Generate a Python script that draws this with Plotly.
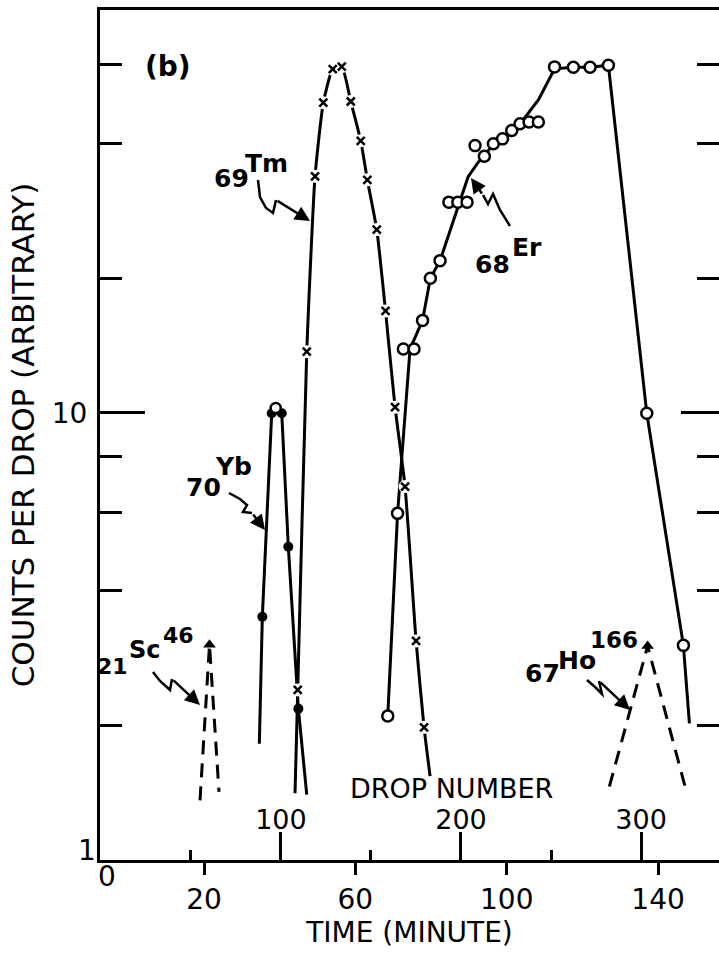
import plotly.graph_objects as go

# ---------------- data (time in minutes, counts per drop) ----------------
# 69Tm  (x markers)
TM_T = [44.77, 47.15, 49.34, 51.53, 54.02, 56.40, 58.78, 61.42, 63.16, 65.65, 67.97, 70.49, 73.13, 76.04, 78.15]
TM_C = [2.40, 13.7, 33.8, 49.4, 58.7, 59.5, 49.7, 40.6, 33.2, 25.7, 16.9, 10.3, 6.84, 3.09, 1.98]
TM_ENDS_T = [44.05, 79.74]
TM_ENDS_C = [1.41, 1.54]

# 70Yb  (filled dots)
YB_T = [35.41, 37.89, 40.54, 42.28, 44.93]
YB_C = [3.50, 9.98, 9.98, 5.02, 2.18]
YB_ENDS_T = [34.62, 47.15]
YB_ENDS_C = [1.82, 1.40]
YB_OPEN_T = [38.95]
YB_OPEN_C = [10.26]

# 68Er  (open circles)
ER_T = [68.56, 71.15, 72.68, 75.51, 77.75, 79.82, 82.38, 84.71, 87.08, 89.52, 91.63, 94.09,
        96.47, 98.90, 101.33, 103.52, 105.90, 108.36, 112.64, 117.61, 122.03, 126.87, 137.01, 146.69]
ER_C = [2.10, 5.96, 13.9, 13.9, 16.1, 20.0, 21.9, 29.6, 29.6, 29.6, 39.6, 37.5,
        40.0, 41.0, 42.8, 44.3, 44.7, 44.7, 59.4, 59.3, 59.3, 59.9, 9.98, 3.02]
# hand-drawn smooth curve through the Er points
ER_CURVE_T = [68.56, 71.15, 74.45, 77.75, 79.82, 82.38, 87.14, 89.78, 92.42, 94.09, 96.47, 98.90,
              101.33, 103.52, 108.36, 112.64, 117.61, 122.03, 126.87, 137.01, 146.69, 148.28]
ER_CURVE_C = [2.10, 5.96, 13.9, 16.1, 20.0, 21.9, 28.9, 33.7, 36.3, 37.5, 40.0, 41.0,
              42.8, 44.3, 50.1, 58.8, 59.3, 59.3, 59.9, 9.98, 3.02, 2.02]

# 21Sc46 and 67Ho166 (dashed, triangle at peak)
SC_T = [18.94, 21.45, 23.96]
SC_C = [1.36, 3.03, 1.42]
HO_T = [127.13, 137.23, 147.14]
HO_C = [1.46, 3.01, 1.46]

TIME_TICKS = [20, 60, 100, 140]
DROP_TICKS = [100, 200, 300]
DROP_MINOR = [50, 150, 250]
Y_MAJOR = [10]
Y_MINOR = [2, 4, 6, 8, 20, 40, 60]

# ---------------- layout geometry ----------------
W, H = 719, 955
ML, MR, MT, MB = 100, 0, 10, 95
PW, PH = W - ML - MR, H - MT - MB
FONT = "DejaVu Sans"


def px(x):
    return (x - ML) / PW


def py(y):
    return (H - MB - y) / PH


fig = go.Figure()

# Tm curve
fig.add_trace(go.Scatter(x=[TM_ENDS_T[0]] + TM_T + [TM_ENDS_T[1]],
                         y=[TM_ENDS_C[0]] + TM_C + [TM_ENDS_C[1]],
                         mode="lines", line=dict(color="black", width=3, shape="spline", smoothing=0.5),
                         hoverinfo="skip"))
# Yb curve
fig.add_trace(go.Scatter(x=[YB_ENDS_T[0]] + YB_T + [YB_ENDS_T[1]],
                         y=[YB_ENDS_C[0]] + YB_C + [YB_ENDS_C[1]],
                         mode="lines", line=dict(color="black", width=3), hoverinfo="skip"))
# Er curve
fig.add_trace(go.Scatter(x=ER_CURVE_T, y=ER_CURVE_C, mode="lines",
                         line=dict(color="black", width=3), hoverinfo="skip"))
# Sc / Ho dashed
for t, c in ((SC_T, SC_C), (HO_T, HO_C)):
    fig.add_trace(go.Scatter(x=t, y=c, mode="lines",
                             line=dict(color="black", width=3, dash="14px,9px"), hoverinfo="skip"))
    fig.add_trace(go.Scatter(x=[t[1]], y=[c[1]], mode="markers",
                             marker=dict(symbol="triangle-up", size=11, color="black"), hoverinfo="skip"))

# Tm markers: white halo then x
fig.add_trace(go.Scatter(x=TM_T, y=TM_C, mode="markers",
                         marker=dict(symbol="circle", size=13, color="white"), hoverinfo="skip"))
fig.add_trace(go.Scatter(x=TM_T, y=TM_C, mode="markers",
                         marker=dict(symbol="x-thin-open", size=8, color="black",
                                     line=dict(color="black", width=2.5)),
                         hoverinfo="skip"))
# Yb markers
fig.add_trace(go.Scatter(x=YB_T, y=YB_C, mode="markers",
                         marker=dict(symbol="circle", size=10, color="black"), hoverinfo="skip"))
fig.add_trace(go.Scatter(x=YB_OPEN_T, y=YB_OPEN_C, mode="markers",
                         marker=dict(symbol="circle", size=10, color="white", line=dict(color="black", width=2.5)),
                         hoverinfo="skip"))
# Er markers
fig.add_trace(go.Scatter(x=ER_T, y=ER_C, mode="markers",
                         marker=dict(symbol="circle", size=11, color="white", line=dict(color="black", width=2.5)),
                         hoverinfo="skip"))

# empty traces to activate the secondary axes
fig.add_trace(go.Scatter(x=[], y=[], xaxis="x2", yaxis="y", hoverinfo="skip"))
fig.add_trace(go.Scatter(x=[], y=[], xaxis="x", yaxis="y2", hoverinfo="skip"))

YR = [0, 1.901]
tickfont = dict(family=FONT, size=28, color="black")

fig.update_layout(
    width=W, height=H,
    margin=dict(l=ML, r=MR, t=MT, b=MB),
    paper_bgcolor="white", plot_bgcolor="white",
    showlegend=False,
    font=dict(family=FONT, color="black"),
    xaxis=dict(range=[-7.49, 156.1], tickvals=TIME_TICKS, ticks="outside", ticklen=12, tickwidth=3,
               tickcolor="black", showline=True, linewidth=3, linecolor="black", mirror=True,
               showgrid=False, zeroline=False, tickfont=tickfont, ticklabelstandoff=0,
               title=dict(text="TIME (MINUTE)", font=dict(family=FONT, size=28, color="black"), standoff=6),
               automargin=False),
    xaxis2=dict(range=[-0.5, 343.3], overlaying="x", side="bottom", anchor="y",
                tickvals=DROP_TICKS, ticks="inside", ticklen=28, tickwidth=3, tickcolor="black",
                ticklabelposition="inside", showline=False, showgrid=False, zeroline=False,
                tickfont=dict(family=FONT, size=27, color="black"),
                minor=dict(tickvals=DROP_MINOR, ticks="inside", ticklen=10, tickwidth=3, tickcolor="black"),
                automargin=False),
    yaxis=dict(type="log", range=YR, tickvals=Y_MAJOR, ticktext=["10"], ticks="inside", ticklen=45,
               tickwidth=3, tickcolor="black", showline=True, linewidth=3, linecolor="black", mirror=False,
               showgrid=False, zeroline=False, tickfont=tickfont, ticklabelstandoff=4,
               minor=dict(tickvals=Y_MINOR, ticks="inside", ticklen=22, tickwidth=3, tickcolor="black"),
               title=dict(text="COUNTS PER DROP (ARBITRARY)", font=dict(family=FONT, size=31, color="black"),
                          standoff=8),
               automargin=False),
    yaxis2=dict(type="log", range=YR, overlaying="y", side="right", anchor="x",
                tickvals=Y_MAJOR, ticks="inside", ticklen=38, tickwidth=3, tickcolor="black",
                showticklabels=False, showline=False, showgrid=False, zeroline=False,
                minor=dict(tickvals=Y_MINOR, ticks="inside", ticklen=22, tickwidth=3, tickcolor="black")),
)

annotations = []


def label(text, x, y, size=26, bold=False):
    annotations.append(dict(text=("<b>%s</b>" % text) if bold else text, x=px(x), y=py(y),
                            xref="paper", yref="paper", showarrow=False, xanchor="center", yanchor="middle",
                            font=dict(family=FONT, size=size, color="black")))


label("(b)", 168, 67, 28, True)
label("69", 231, 178, 25, True)
label("Tm", 266, 164, 25, True)
label("70", 203, 487, 25, True)
label("Yb", 233, 467, 25, True)
label("68", 492, 264, 25, True)
label("Er", 527, 247, 25, True)
label("21", 112, 666, 22, True)
label("Sc", 145, 650, 24, True)
label("46", 178, 635, 22, True)
label("67", 542, 673, 25, True)
label("Ho", 577, 660, 25, True)
label("166", 614, 640, 23, True)
label("DROP NUMBER", 451, 788, 27)
label("0", 107, 876, 28)
label("1", 87, 850, 28)

shapes = []
ARROWS = [
    ([(258, 180), (260, 197), (266, 208), (273, 213), (276, 200)], (310, 221)),
    ([(229, 493), (240, 499), (247, 505), (243, 512), (252, 513)], (265, 530)),
    ([(510, 226), (500, 210), (493, 194), (488, 204), (483, 195)], (471, 178)),
    ([(153, 672), (160, 681), (170, 690), (172, 679)], (200, 705)),
    ([(587, 680), (595, 687), (602, 694), (599, 681)], (630, 710)),
]
for pts, tip in ARROWS:
    path = "M %f %f " % (px(pts[0][0]), py(pts[0][1]))
    path += " ".join("L %f %f" % (px(a), py(b)) for a, b in pts[1:])
    shapes.append(dict(type="path", path=path, xref="paper", yref="paper",
                       line=dict(color="black", width=2.5)))
    last = pts[-1]
    annotations.append(dict(text="", x=px(tip[0]), y=py(tip[1]), xref="paper", yref="paper",
                            showarrow=True, arrowhead=2, arrowsize=1.2, arrowwidth=2.5, arrowcolor="black",
                            ax=last[0] - tip[0], ay=last[1] - tip[1], axref="pixel", ayref="pixel"))

fig.update_layout(annotations=annotations, shapes=shapes)

fig.write_html("out.html")
